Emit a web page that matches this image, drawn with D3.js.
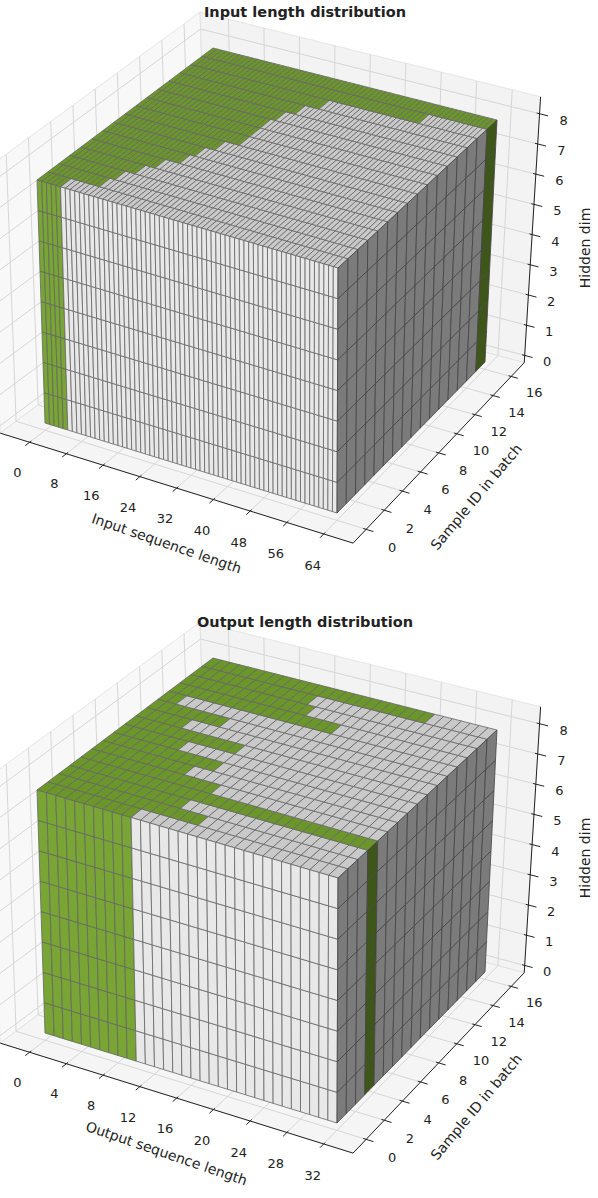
<!DOCTYPE html>
<html><head><meta charset="utf-8">
<script src="https://cdn.jsdelivr.net/npm/d3@7/dist/d3.min.js"></script>
<style>body{margin:0;background:#fff}svg{display:block}text{font-family:"DejaVu Sans",sans-serif;fill:#222}</style>
</head><body><svg id="c" width="598" height="1198"></svg>
<script>
// ---- data ----
const inputLengths  = [5,11,12,14,16,19,20,22,25,25,25,26,28,31,51,64];   // per sample ID 0..15
const outputLengths = [10,16,13,32,14,10,12,7,12,5,8,2,18,14,13,25];
const inputTicks  = [0,8,16,24,32,40,48,56,64];
const outputTicks = [0,4,8,12,16,20,24,28,32];
const sampleTicks = [0,2,4,6,8,10,12,14,16];
const hiddenTicks = [0,1,2,3,4,5,6,7,8];
const numSamples = 16, hiddenDim = 8;

const charts = [
  {title:"Input length distribution", xMax:64, lens:inputLengths, xTicks:inputTicks, xLabel:"Input sequence length", yOff:0},
  {title:"Output length distribution", xMax:32, lens:outputLengths, xTicks:outputTicks, xLabel:"Output sequence length", yOff:610}
];

// screen corners of the data box (u,v,w in [0,1])
const C = {
  "000":[45,423],"100":[337,513],"010":[219,290],"110":[485,362],
  "001":[37,180],"101":[338,268],"011":[213,48],"111":[497,120]
};
function proj(u,v,w,off){
  const L=(a,b,t)=>[a[0]+(b[0]-a[0])*t,a[1]+(b[1]-a[1])*t];
  const a=L(C["000"],C["100"],u), b=L(C["010"],C["110"],u);
  const c=L(C["001"],C["101"],u), d=L(C["011"],C["111"],u);
  const e=L(a,b,v), f=L(c,d,v);
  const p=L(e,f,w); return [p[0],p[1]+off];
}
const pu=0.10, pv=0.09, pw=0.03, wTop=1.07;
const svg=d3.select("#c");
const poly=(g,pts,fill,stroke,sw)=>g.append("polygon").attr("points",pts.map(p=>p.map(x=>x.toFixed(2)).join(",")).join(" "))
  .attr("fill",fill).attr("stroke",stroke||"none").attr("stroke-width",sw||0);
const line=(g,p,q,stroke,sw)=>g.append("line").attr("x1",p[0]).attr("y1",p[1]).attr("x2",q[0]).attr("y2",q[1]).attr("stroke",stroke).attr("stroke-width",sw);

const col={gTop:"#6b9629",gFront:"#78a533",gRight:"#3e5619",wTop:"#c9c9c9",wFront:"#e8e8e8",wRight:"#7b7b7b",edge:"#666"};

charts.forEach(ch=>{
  const off=ch.yOff, g=svg.append("g");
  const xs=d3.scaleLinear().domain([0,ch.xMax]).range([0,1]);
  const ys=d3.scaleLinear().domain([0,numSamples]).range([0,1]);
  const zs=d3.scaleLinear().domain([0,hiddenDim]).range([0,1]);
  const P=(u,v,w)=>proj(u,v,w,off);
  const u0=-pu,u1=1+pu,v0=-pv,v1=1+pv,w0=-pw,w1=wTop;
  // panes
  poly(g,[P(u0,v0,w0),P(u0,v1,w0),P(u0,v1,w1),P(u0,v0,w1)],"#f8f8f8","#e0e0e0",0.8);
  poly(g,[P(u0,v1,w0),P(u1,v1,w0),P(u1,v1,w1),P(u0,v1,w1)],"#f3f3f3","#e0e0e0",0.8);
  poly(g,[P(u0,v0,w0),P(u1,v0,w0),P(u1,v1,w0),P(u0,v1,w0)],"#f5f5f5","#e0e0e0",0.8);
  const gc="#d6d6d6", gw=1;
  ch.xTicks.forEach(t=>{const u=xs(t);
    line(g,P(u,v1,w0),P(u,v1,w1),gc,gw); line(g,P(u,v0,w0),P(u,v1,w0),gc,gw);});
  sampleTicks.forEach(t=>{const v=ys(t);
    line(g,P(u0,v,w0),P(u0,v,w1),gc,gw); line(g,P(u0,v,w0),P(u1,v,w0),gc,gw);});
  hiddenTicks.forEach(t=>{const w=zs(t);
    line(g,P(u0,v0,w),P(u0,v1,w),gc,gw); line(g,P(u0,v1,w),P(u1,v1,w),gc,gw);});
  // voxels
  const vg=svg.append("g");
  for(let s=0;s<numSamples;s++) for(let i=0;i<ch.xMax;i++){
    const green=i<ch.lens[s];
    poly(vg,[P(xs(i),ys(s),1),P(xs(i+1),ys(s),1),P(xs(i+1),ys(s+1),1),P(xs(i),ys(s+1),1)],green?col.gTop:col.wTop,col.edge,0.8);
  }
  for(let h=0;h<hiddenDim;h++){
    for(let i=0;i<ch.xMax;i++){
      const green=i<ch.lens[0];
      poly(vg,[P(xs(i),0,zs(h)),P(xs(i+1),0,zs(h)),P(xs(i+1),0,zs(h+1)),P(xs(i),0,zs(h+1))],green?col.gFront:col.wFront,col.edge,0.8);
    }
    for(let s=0;s<numSamples;s++){
      const green=ch.lens[s]>=ch.xMax;
      poly(vg,[P(1,ys(s),zs(h)),P(1,ys(s+1),zs(h)),P(1,ys(s+1),zs(h+1)),P(1,ys(s),zs(h+1))],green?col.gRight:col.wRight,"#444",0.8);
    }
  }
  // axes
  const ag=svg.append("g"), ac="#222";
  line(ag,P(u0,v0,w0),P(u1,v0,w0),ac,1);
  ch.xTicks.forEach(t=>{const u=xs(t);
    line(ag,P(u,v0+0.01,w0),P(u,v0-0.025,w0),ac,1);
    const p=P(u,v0-0.075,w0-0.1);
    ag.append("text").attr("x",p[0]).attr("y",p[1]).attr("text-anchor","middle").attr("font-size",13).text(t);});
  line(ag,P(u1,v0,w0),P(u1,v1,w0),ac,1);
  sampleTicks.forEach(t=>{const v=ys(t);
    line(ag,P(u1-0.01,v,w0),P(u1+0.025,v,w0),ac,1);
    const p=P(u1+0.09,v,w0-0.06);
    ag.append("text").attr("x",p[0]).attr("y",p[1]).attr("text-anchor","middle").attr("font-size",13).text(t);});
  line(ag,P(u1,v1,w0),P(u1,v1,w1),ac,1);
  hiddenTicks.forEach(t=>{const w=zs(t);
    line(ag,P(u1-0.01,v1,w),P(u1+0.03,v1,w),ac,1);
    const p=P(u1+0.085,v1,w);
    ag.append("text").attr("x",p[0]).attr("y",p[1]+5).attr("text-anchor","middle").attr("font-size",13).text(t);});
  // labels
  ag.append("text").attr("transform",`translate(165,${548+off}) rotate(19)`).attr("text-anchor","middle").attr("font-size",14).text(ch.xLabel);
  ag.append("text").attr("transform",`translate(480,${500+off}) rotate(-50)`).attr("text-anchor","middle").attr("font-size",14).text("Sample ID in batch");
  ag.append("text").attr("transform",`translate(590,${248+off}) rotate(-90)`).attr("text-anchor","middle").attr("font-size",14).text("Hidden dim");
  ag.append("text").attr("x",305).attr("y",17+off).attr("text-anchor","middle").attr("font-size",14.5).attr("font-weight","bold").text(ch.title);
});
</script></body></html>
